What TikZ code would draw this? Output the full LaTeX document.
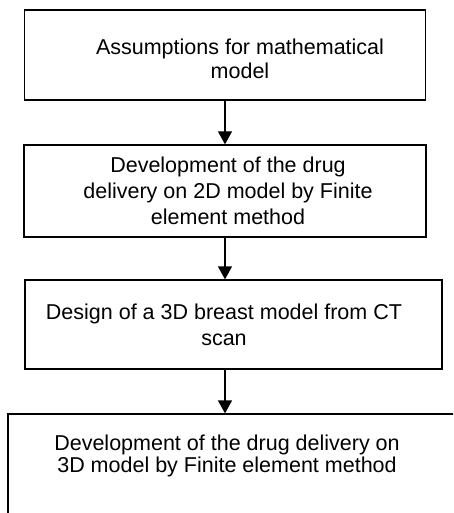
\documentclass[tikz,border=0pt]{standalone}
\usepackage{fontspec}
\setmainfont{Liberation Sans}
\usetikzlibrary{arrows.meta}

\tikzset{
    stagebox/.style={draw, line width=1.3pt, inner sep=0pt},
    stagetext/.style={align=center, inner sep=0pt, font=\fontsize{21.5}{#1}\selectfont},
    stagetext/.default=26,
    flowarrow/.style={line width=1.3pt, -{Triangle[length=13pt,width=14pt]}}
}

\begin{document}
\begin{tikzpicture}[x=1pt,y=-1pt]
    \clip (0,0) rectangle (453,513);

    \node[stagebox, minimum width=401pt, minimum height=90pt] (assume) at (225,55) {};
    \node[stagetext=24] (assumetext) at (240,58.5) {Assumptions for mathematical\\model};

    \node[stagebox, minimum width=402pt, minimum height=92pt] (model2d) at (225,191) {};
    \node[stagetext] (model2dtext) at (228,191) {Development of the drug\\delivery on 2D model by Finite\\element method};

    \node[stagebox, minimum width=417pt, minimum height=89pt] (scan3d) at (233.5,324.5) {};
    \node[stagetext] (scan3dtext) at (224,325) {Design of a 3D breast model from CT\\scan};

    % last box runs off the page
    \node[stagebox, minimum width=462pt, minimum height=126pt] (model3d) at (239,477) {};
    \node[stagetext=22] (model3dtext) at (227,456) {Development of the drug delivery on\\3D model by Finite element method};

    \draw[flowarrow] (assume.south) -- (model2d.north);
    \draw[flowarrow] (model2d.south) -- (model2d.south |- scan3d.north);
    \draw[flowarrow] (scan3d.south -| model2d.south) -- (model2d.south |- model3d.north);
\end{tikzpicture}
\end{document}
